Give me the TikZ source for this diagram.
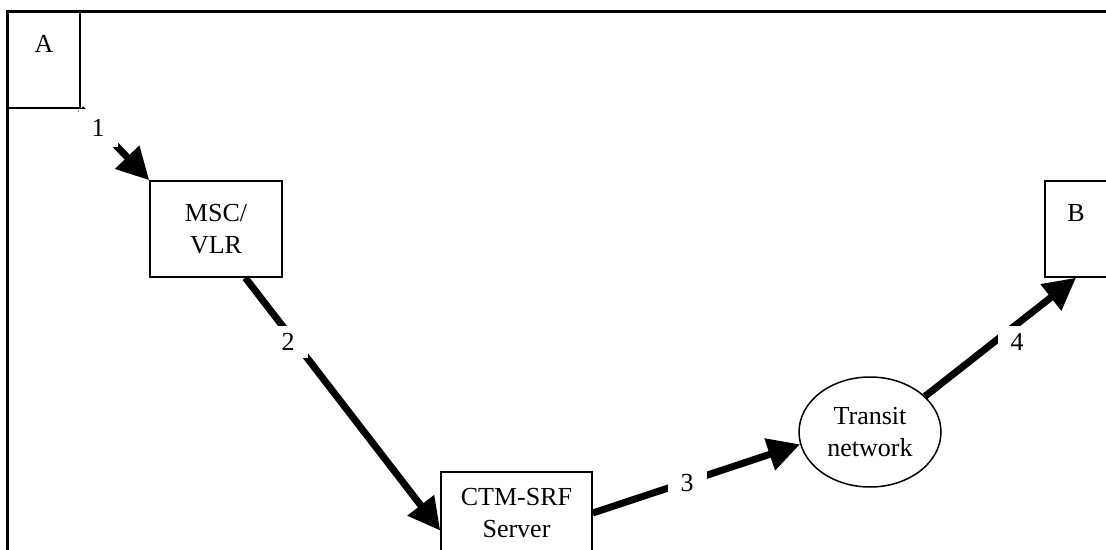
\documentclass[tikz,border=0pt]{standalone}
\usepackage{fontspec}
\setmainfont{Liberation Serif}
\usetikzlibrary{shapes,arrows.meta}

\begin{document}
\begin{tikzpicture}[x=.5pt,y=-.5pt,font=\fontsize{13}{16}\selectfont]
		\tikzstyle{box}=[rectangle,draw,line width=.75pt,align=center,inner sep=0pt]
		\tikzstyle{cloud}=[ellipse,draw,line width=.75pt,align=center,inner sep=0pt,minimum width=71pt,minimum height=55pt]
		\tikzstyle{flow}=[line width=3.5pt,-{Triangle[length=16pt,width=16pt]}]
		\tikzstyle{num}=[fill=white,inner xsep=6.5pt,inner ysep=3.5pt]

		\useasboundingbox (0,0) rectangle (1106,550);
		\clip (0,0) rectangle (1106,550);

		\node [box,minimum width=36pt,minimum height=48pt] (a) at (44,60) {A\\\mbox{}};
		\node [box,minimum width=66pt,minimum height=48pt] (msc) at (216,229) {MSC/\\VLR};
		\node [box,minimum width=75.5pt,minimum height=41pt] (ctm) at (516.5,513) {CTM-SRF\\Server};
		\node [cloud] (trn) at (870,432) {Transit\\network};
		\node [box,minimum width=31pt,minimum height=48pt] (b) at (1076,229) {B\\\mbox{}};

		\draw [flow] (a.south east) -- (msc.north west);
		\draw [flow] (msc.-59) -- (ctm.193);
		\draw [flow] (ctm.east) -- (trn.190);
		\draw [flow] (trn.33) -- (b.south);

		\node [num,inner ysep=5pt] (n1) at (98,128) {1};
		\node [num] (n2) at (288,342) {2};
		\node [num] (n3) at (687,483) {3};
		\node [num] (n4) at (1017,342) {4};

		% frame
		\draw [line width=1.5pt] (7.5,560) -- (7.5,11.5) -- (1110,11.5);
\end{tikzpicture}
\end{document}
